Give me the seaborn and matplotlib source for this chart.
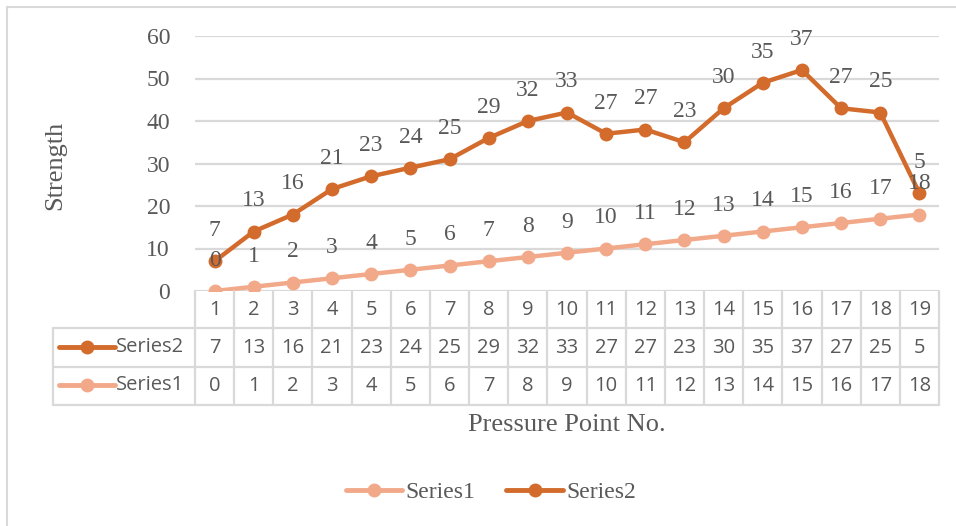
import matplotlib
matplotlib.use("Agg")
import matplotlib.pyplot as plt
from matplotlib.lines import Line2D
from matplotlib.patches import Rectangle
import seaborn as sns
import pandas as pd
import numpy as np

# Pressure points and the two strength series (Series2 is stacked on Series1)
points = list(range(1, 20))
series1 = [0, 1, 2, 3, 4, 5, 6, 7, 8, 9, 10, 11, 12, 13, 14, 15, 16, 17, 18]
series2 = [7, 13, 16, 21, 23, 24, 25, 29, 32, 33, 27, 27, 23, 30, 35, 37, 27, 25, 5]
y_ticks = [0, 10, 20, 30, 40, 50, 60]

C1 = "#F2A98A"
C2 = "#D26B2B"
GRID = "#D9D9D9"
TXT = "#595959"
SERIF = "Liberation Serif"
SANS = "Open Sans"

sns.set_theme(style="white")
plt.rcParams["font.family"] = [SERIF, "DejaVu Sans"]

W, H = 956, 526
fig = plt.figure(figsize=(W / 100, H / 100), dpi=100)

def fx(px):
    return px / W

def fy(py):
    return 1 - py / H

# outer chart border
fig.patches.append(Rectangle((fx(7), fy(560)), fx(1000), fy(7) - fy(560),
                             transform=fig.transFigure, fill=False,
                             edgecolor=GRID, lw=1.5))

left, right, top, bottom = 195, 939, 36, 291
ax = fig.add_axes([fx(left), fy(bottom), fx(right - left), fy(top) - fy(bottom)])

idx = np.arange(len(points))
stacked = [a + b for a, b in zip(series1, series2)]
df = pd.DataFrame({
    "x": np.concatenate([idx, idx]),
    "value": series1 + stacked,
    "series": ["Series1"] * len(points) + ["Series2"] * len(points),
})

sns.lineplot(data=df, x="x", y="value", hue="series",
             palette={"Series1": C1, "Series2": C2},
             marker="o", markersize=10, markeredgewidth=0,
             linewidth=3.2, ax=ax, legend=False, zorder=3)

ax.set_xlim(-0.5, len(points) - 0.5)
ax.set_ylim(0, 60)
ax.set_yticks(y_ticks)
ax.set_yticklabels([str(t) for t in y_ticks], fontsize=17, color=TXT, family=SERIF)
ax.tick_params(axis="y", length=0, pad=18)
ax.set_xticks([])
ax.set_xlabel("")
ax.set_ylabel("")
for s in ax.spines.values():
    s.set_visible(False)
for t in y_ticks:
    ax.axhline(t, color=GRID, lw=1.6, zorder=1)

# data labels above each marker
for i in idx:
    ax.annotate(str(series2[i]), (i, stacked[i]), xytext=(0, 22),
                textcoords="offset points", ha="center", va="center",
                fontsize=17, color=TXT, family=SERIF, zorder=4)
    ax.annotate(str(series1[i]), (i, series1[i]), xytext=(0, 22),
                textcoords="offset points", ha="center", va="center",
                fontsize=17, color=TXT, family=SERIF, zorder=4)

fig.text(fx(55), fy(165), "Strength", rotation=90, ha="center", va="center",
         fontsize=19, color=TXT, family=SERIF)

# data table below the plot
tr = fig.transFigure
cell_w = (right - left) / len(points)
rows_y = [291, 328, 367, 405]
lab_left = 53

def hline(y, x0, x1):
    fig.lines.append(Line2D([fx(x0), fx(x1)], [fy(y), fy(y)], transform=tr, color=GRID, lw=1.6))

def vline(x, y0, y1):
    fig.lines.append(Line2D([fx(x), fx(x)], [fy(y0), fy(y1)], transform=tr, color=GRID, lw=1.6))

hline(rows_y[1], lab_left, right)
hline(rows_y[2], lab_left, right)
hline(rows_y[3], lab_left, right)
vline(lab_left, rows_y[1], rows_y[3])
for k in range(len(points) + 1):
    vline(left + k * cell_w, rows_y[0], rows_y[3])

for k, p in enumerate(points):
    cx = left + (k + 0.5) * cell_w
    fig.text(fx(cx), fy(310), str(p), ha="center", va="center", fontsize=14.5, color=TXT, family=SANS)
    fig.text(fx(cx), fy(348), str(series2[k]), ha="center", va="center", fontsize=14.5, color=TXT, family=SANS)
    fig.text(fx(cx), fy(386), str(series1[k]), ha="center", va="center", fontsize=14.5, color=TXT, family=SANS)

for yy, name, col in [(347, "Series2", C2), (385, "Series1", C1)]:
    fig.lines.append(Line2D([fx(59), fx(115)], [fy(yy), fy(yy)], transform=tr, color=col, lw=3.5))
    fig.lines.append(Line2D([fx(87)], [fy(yy)], transform=tr, color=col, marker="o", markersize=10, markeredgewidth=0))
    fig.text(fx(116), fy(yy), name, ha="left", va="center", fontsize=14.5, color=TXT, family=SANS)

fig.text(fx(567), fy(425), "Pressure Point No.", ha="center", va="center", fontsize=19, color=TXT, family=SERIF)

# legend
handles = [Line2D([], [], color=C1, lw=3.5, marker="o", markersize=10, markeredgewidth=0),
           Line2D([], [], color=C2, lw=3.5, marker="o", markersize=10, markeredgewidth=0)]
leg = fig.legend(handles, ["Series1", "Series2"], loc="center", bbox_to_anchor=(fx(491), fy(492)),
                 ncol=2, frameon=False, handlelength=2.4, handletextpad=0.15, columnspacing=1.3,
                 prop={"family": SERIF, "size": 17})
for t in leg.get_texts():
    t.set_color(TXT)

fig.savefig("out.png", dpi=100, facecolor="white")
